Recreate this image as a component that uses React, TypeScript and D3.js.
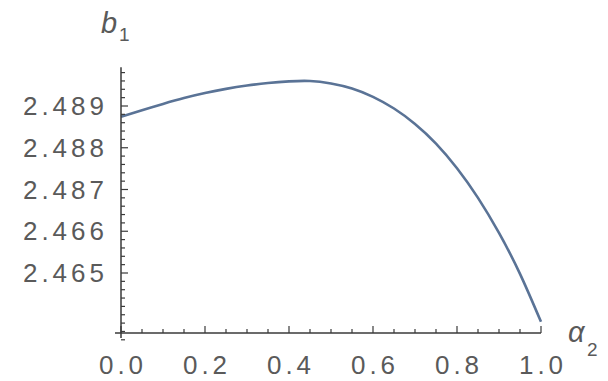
import React from "react";
import * as d3 from "d3";

const alphaValues = [0, 0.05, 0.1, 0.15, 0.2, 0.25, 0.3, 0.35, 0.4, 0.45, 0.5, 0.55, 0.6, 0.65, 0.7, 0.75, 0.8, 0.85, 0.9, 0.95, 1.0];
const b1Values = [2.48874, 2.4889, 2.48905, 2.48919, 2.48931, 2.48941, 2.48949, 2.48955, 2.48959, 2.4896, 2.48954, 2.48942, 2.48922, 2.48894, 2.48857, 2.4881, 2.48751, 2.4868, 2.48596, 2.48498, 2.48383];
const xTickLabels = ["0.0", "0.2", "0.4", "0.6", "0.8", "1.0"];
const xTickValues = [0, 0.2, 0.4, 0.6, 0.8, 1.0];
const yTickLabels = ["2.489", "2.488", "2.487", "2.466", "2.465"];
const yTickValues = [2.489, 2.488, 2.487, 2.486, 2.485];

const W = 608;
const H = 381;

export default function App() {
  const x = d3.scaleLinear().domain([0, 1]).range([121, 541]);
  const y = d3.scaleLinear().domain([2.485, 2.489]).range([273, 106]);
  const yTop = 2.48993;
  const yBottom = y.invert(333);

  const line = d3
    .line<number>()
    .x((_, i) => x(alphaValues[i]))
    .y((d) => y(d))
    .curve(d3.curveNatural);

  const axisColor = "#3a3a3a";
  const textColor = "#5a5a5a";
  const x0 = x(0);
  const yAxisY = y(yBottom);

  const minorY: number[] = [];
  for (let v = 2.4834; v <= yTop + 1e-9; v += 0.0002) minorY.push(+v.toFixed(4));
  const minorX: number[] = [];
  for (let i = 0; i <= 20; i++) minorX.push(i * 0.05);

  const font = "'Liberation Sans', Arial, sans-serif";

  return (
    <svg
      width={W}
      height={H}
      style={{ position: "absolute", left: 0, top: 0, background: "#fff" }}
    >
      {/* curve */}
      <path d={line(b1Values) || ""} fill="none" stroke="#5a7396" strokeWidth={2.6} />

      {/* y axis */}
      <line x1={x0} x2={x0} y1={y(yTop)} y2={yAxisY + 5} stroke={axisColor} strokeWidth={1.5} />
      {minorY.map((v) => {
        const major = yTickValues.some((t) => Math.abs(t - v) < 1e-7);
        return (
          <line
            key={"my" + v}
            x1={x0}
            x2={x0 + (major ? 7 : 4)}
            y1={y(v)}
            y2={y(v)}
            stroke={axisColor}
            strokeWidth={1.2}
          />
        );
      })}
      {yTickValues.map((v, i) => (
        <text
          key={"yl" + i}
          x={108}
          y={y(v)}
          textAnchor="end"
          dominantBaseline="central"
          fontFamily={font}
          fontSize={26}
          letterSpacing={4}
          fill={textColor}
        >
          {yTickLabels[i]}
        </text>
      ))}

      {/* x axis */}
      <line x1={x0 - 6} x2={x(1)} y1={yAxisY} y2={yAxisY} stroke={axisColor} strokeWidth={1.5} />
      {minorX.map((v) => {
        const major = xTickValues.some((t) => Math.abs(t - v) < 1e-7);
        return (
          <line
            key={"mx" + v}
            x1={x(v)}
            x2={x(v)}
            y1={yAxisY}
            y2={yAxisY - (major ? 7 : 4)}
            stroke={axisColor}
            strokeWidth={1.2}
          />
        );
      })}
      {xTickValues.map((v, i) => (
        <text
          key={"xl" + i}
          x={x(v) + 2}
          y={365}
          textAnchor="middle"
          dominantBaseline="central"
          fontFamily={font}
          fontSize={26}
          letterSpacing={4}
          fill={textColor}
        >
          {xTickLabels[i]}
        </text>
      ))}

      {/* axis labels */}
      <text x={101} y={33} fontFamily={font} fontSize={29} fontStyle="italic" fill={textColor}>
        b
      </text>
      <text x={119} y={41} fontFamily={font} fontSize={19} fill={textColor}>
        1
      </text>
      <text x={568} y={342} fontFamily={font} fontSize={29} fontStyle="italic" fill={textColor}>
        α
      </text>
      <text x={587} y={356} fontFamily={font} fontSize={19} fill={textColor}>
        2
      </text>
    </svg>
  );
}
